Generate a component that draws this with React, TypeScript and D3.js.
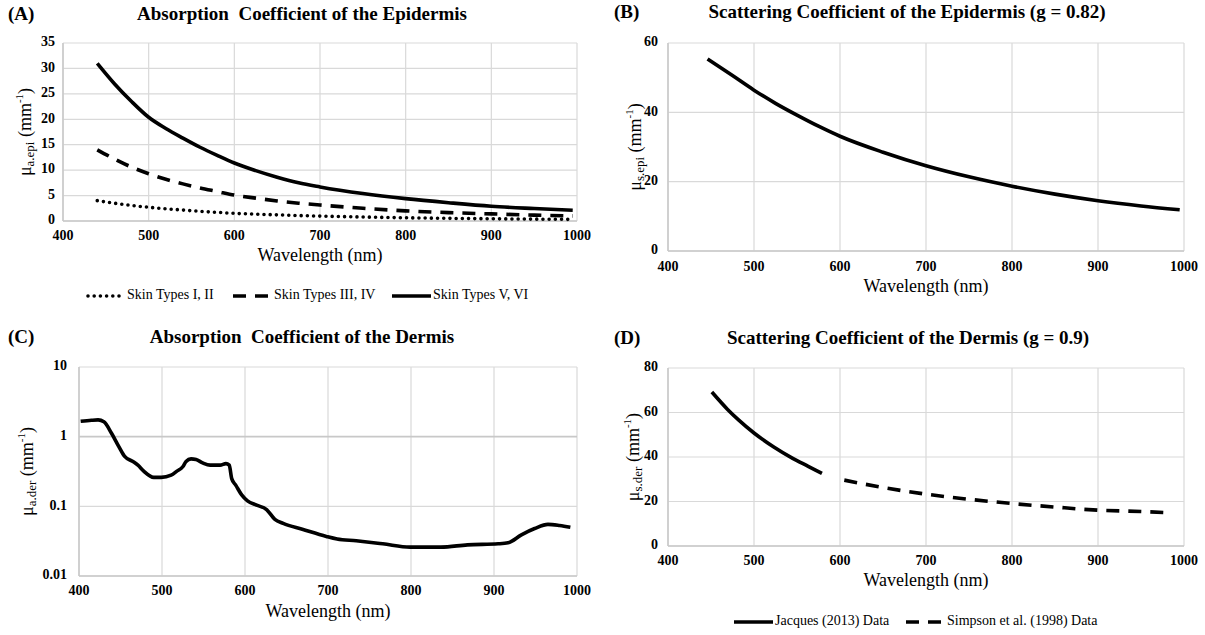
import React from "react";
import * as d3 from "d3";

// ---------- DATA ----------
const wavelengthTicks = [400, 500, 600, 700, 800, 900, 1000];

// (A) Absorption coefficient of the epidermis
const epiAbsWl = [440, 460, 480, 500, 520, 540, 560, 580, 600, 625, 650, 675, 700, 750, 800, 850, 900, 950, 995];
const skinTypes12 = [4.0, 3.5, 3.05, 2.7, 2.4, 2.15, 1.9, 1.7, 1.5, 1.35, 1.2, 1.07, 0.96, 0.78, 0.63, 0.52, 0.44, 0.37, 0.32];
const skinTypes34 = [14.0, 12.2, 10.6, 9.3, 8.2, 7.3, 6.5, 5.8, 5.1, 4.5, 3.95, 3.5, 3.15, 2.5, 2.0, 1.65, 1.4, 1.15, 1.0];
const skinTypes56 = [31.0, 27.0, 23.5, 20.4, 18.2, 16.3, 14.5, 12.9, 11.4, 9.9, 8.6, 7.5, 6.7, 5.4, 4.4, 3.6, 2.9, 2.45, 2.1];
const epiAbsTicks = [0, 5, 10, 15, 20, 25, 30, 35];

// (B) Scattering coefficient of the epidermis
const epiScaWl = [446, 475, 500, 525, 550, 575, 600, 650, 700, 750, 800, 850, 900, 950, 995];
const epiSca = [55.4, 50.6, 46.4, 42.6, 39.2, 36.0, 33.1, 28.5, 24.6, 21.4, 18.7, 16.4, 14.5, 13.0, 11.9];
const epiScaTicks = [0, 20, 40, 60];

// (C) Absorption coefficient of the dermis (log scale)
const derAbsWl = [402, 415, 423, 430, 439, 448, 455, 465, 471, 478, 490, 499, 511, 518, 525, 529, 535, 541, 549, 558, 570, 577, 581, 584, 589, 596, 603, 614, 626, 636, 646, 669, 698, 711, 734, 766, 799, 836, 868, 905, 917, 933, 949, 965, 979, 992];
const derAbs = [1.66, 1.72, 1.74, 1.64, 1.13, 0.72, 0.52, 0.44, 0.39, 0.32, 0.26, 0.26, 0.28, 0.32, 0.37, 0.44, 0.48, 0.47, 0.42, 0.39, 0.39, 0.41, 0.39, 0.25, 0.2, 0.146, 0.12, 0.104, 0.09, 0.065, 0.057, 0.047, 0.037, 0.034, 0.032, 0.029, 0.026, 0.026, 0.028, 0.029, 0.03, 0.039, 0.048, 0.055, 0.053, 0.05];
const derAbsTicks = [0.01, 0.1, 1, 10];
const derAbsTickLabels = ["0.01", "0.1", "1", "10"];

// (D) Scattering coefficient of the dermis
const jacquesWl = [451, 469, 482, 500, 523, 545, 563, 579];
const jacques = [69.2, 61.5, 56.7, 50.8, 44.5, 39.4, 35.8, 32.6];
const simpsonWl = [605, 650, 700, 750, 800, 850, 900, 950, 980];
const simpson = [29.6, 26.3, 23.3, 21.0, 19.1, 17.5, 16.1, 15.5, 15.0];
const derScaTicks = [0, 20, 40, 60, 80];

// ---------- STYLE ----------
const SERIF = "Liberation Serif, Times New Roman, serif";
const GRID = "#d9d9d9";
const DOT = "0 6.2";
const DASH = "13 9";

type Series = { xs: number[]; ys: number[]; dash?: string; cap?: "round" | "butt" };

const txt = (size: number, bold = false): React.CSSProperties => ({
  fontFamily: SERIF, fontSize: size, fontWeight: bold ? 700 : 400,
});

function Panel(props: {
  left: number; top: number; right: number; bottom: number;
  letter: string; letterX: number; title: string; titleX: number; titleY: number;
  yTicks: number[]; yTickLabels?: string[]; log?: boolean; yDomain: [number, number];
  sub: string; series: Series[];
  yLabelX: number; tickGap: number; xTickY: number; xTitleY: number;
}) {
  const { left, top, right, bottom } = props;
  const x = d3.scaleLinear().domain([400, 1000]).range([left, right]);
  const y = props.log
    ? d3.scaleLog().domain(props.yDomain).range([bottom, top])
    : d3.scaleLinear().domain(props.yDomain).range([bottom, top]);
  const line = d3.line<[number, number]>().x(d => x(d[0])).y(d => y(d[1])).curve(d3.curveMonotoneX);
  const yMid = (top + bottom) / 2;
  return (
    <g>
      <text x={props.letterX} y={props.titleY} style={txt(19, true)} dominantBaseline="middle">{props.letter}</text>
      <text x={props.titleX} y={props.titleY} style={{ ...txt(19, true), whiteSpace: "pre" }} textAnchor="middle" dominantBaseline="middle">{props.title}</text>
      {/* grid */}
      {wavelengthTicks.map(t => (
        <line key={"vx" + t} x1={x(t)} x2={x(t)} y1={top} y2={bottom} stroke={GRID} strokeWidth={1.2} />
      ))}
      {props.yTicks.map(t => (
        <line key={"hy" + t} x1={left} x2={right} y1={y(t)} y2={y(t)} stroke={props.log && t === 1 ? "#c8c8c8" : GRID} strokeWidth={props.log && t === 1 ? 1.6 : 1.2} />
      ))}
      <line x1={left} x2={left} y1={top} y2={bottom} stroke="#c8c8c8" strokeWidth={1.5} />
      <line x1={left} x2={right} y1={bottom} y2={bottom} stroke="#c8c8c8" strokeWidth={1.5} />
      {/* tick labels */}
      {wavelengthTicks.map(t => (
        <text key={"lx" + t} x={x(t)} y={props.xTickY} style={txt(14, true)} textAnchor="middle" dominantBaseline="middle">{t}</text>
      ))}
      {props.yTicks.map((t, i) => (
        <text key={"ly" + t} x={left - props.tickGap} y={y(t)} style={txt(14, true)} textAnchor="end" dominantBaseline="middle">{props.yTickLabels ? props.yTickLabels[i] : t}</text>
      ))}
      <text x={(left + right) / 2} y={props.xTitleY} style={txt(18)} textAnchor="middle" dominantBaseline="middle">Wavelength (nm)</text>
      <text transform={`translate(${props.yLabelX},${yMid}) rotate(-90)`} style={txt(18)} textAnchor="middle" dominantBaseline="middle">
        μ<tspan style={{ fontSize: 13 }} dy={4}>{props.sub}</tspan><tspan dy={-4}> (mm</tspan><tspan style={{ fontSize: 11 }} dy={-7}>-1</tspan><tspan dy={7}>)</tspan>
      </text>
      {/* series */}
      {props.series.map((s, i) => (
        <path key={"s" + i} d={line(s.xs.map((v, j) => [v, s.ys[j]] as [number, number])) || ""} fill="none" stroke="#000" strokeWidth={3.6}
          strokeDasharray={s.dash} strokeLinecap={s.cap || "butt"} strokeLinejoin="round" />
      ))}
    </g>
  );
}

function LegendItem(props: { x: number; y: number; dash?: string; cap?: "round" | "butt"; label: string; len?: number }) {
  const len = props.len ?? 39;
  return (
    <g>
      <line x1={props.x} x2={props.x + len} y1={props.y} y2={props.y} stroke="#000" strokeWidth={3.6} strokeDasharray={props.dash} strokeLinecap={props.cap || "butt"} />
      <text x={props.x + len + 2} y={props.y} style={txt(14)} dominantBaseline="middle">{props.label}</text>
    </g>
  );
}

export default function App() {
  return (
    <svg width={1205} height={635} style={{ position: "absolute", left: 0, top: 0, background: "#fff" }}>
      <rect x={0} y={0} width={1205} height={635} fill="#fff" />
      <Panel left={63} top={43} right={577} bottom={221} letter="(A)" letterX={8} title={"Absorption  Coefficient of the Epidermis"} titleX={302} titleY={16}
        yTicks={epiAbsTicks} yDomain={[0, 35]} sub="a.epi" yLabelX={27} tickGap={8} xTickY={237} xTitleY={257}
        series={[
          { xs: epiAbsWl, ys: skinTypes12, dash: DOT, cap: "round" },
          { xs: epiAbsWl, ys: skinTypes34, dash: DASH },
          { xs: epiAbsWl, ys: skinTypes56 },
        ]} />
      <LegendItem x={88} y={296} dash={DOT} cap="round" label="Skin Types I, II" len={37} />
      <LegendItem x={233} y={296} dash={DASH} label="Skin Types III, IV" />
      <LegendItem x={392} y={296} label="Skin Types V, VI" />

      <Panel left={668} top={43} right={1184} bottom={251} letter="(B)" letterX={614} title={"Scattering Coefficient of the Epidermis (g = 0.82)"} titleX={907} titleY={14}
        yTicks={epiScaTicks} yDomain={[0, 60]} sub="s.epi" yLabelX={637} tickGap={10} xTickY={268} xTitleY={288}
        series={[{ xs: epiScaWl, ys: epiSca }]} />

      <Panel left={79} top={367} right={577} bottom={576} letter="(C)" letterX={8} title={"Absorption  Coefficient of the Dermis"} titleX={302} titleY={339}
        yTicks={derAbsTicks} yTickLabels={derAbsTickLabels} log yDomain={[0.01, 10]} sub="a.der" yLabelX={29} tickGap={12} xTickY={592} xTitleY={613}
        series={[{ xs: derAbsWl, ys: derAbs }]} />

      <Panel left={668} top={368} right={1184} bottom={546} letter="(D)" letterX={614} title={"Scattering Coefficient of the Dermis (g = 0.9)"} titleX={908} titleY={340}
        yTicks={derScaTicks} yDomain={[0, 80]} sub="s.der" yLabelX={635} tickGap={10} xTickY={562} xTitleY={582}
        series={[
          { xs: jacquesWl, ys: jacques },
          { xs: simpsonWl, ys: simpson, dash: DASH },
        ]} />
      <LegendItem x={734} y={622} label="Jacques (2013) Data" />
      <LegendItem x={906} y={622} dash={DASH} label="Simpson et al. (1998) Data" />
    </svg>
  );
}
